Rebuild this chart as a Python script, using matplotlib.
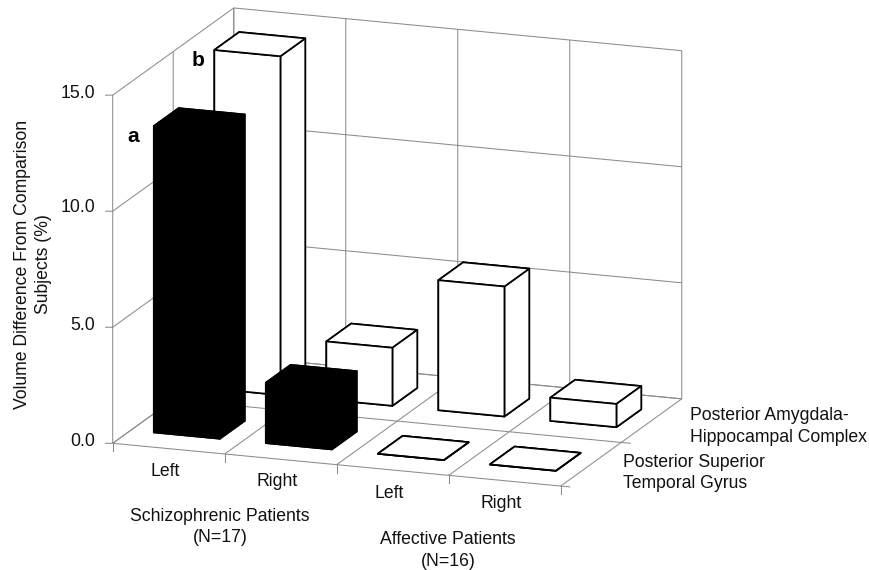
import matplotlib
matplotlib.use('Agg')
from matplotlib import pyplot as plt
from mpl_toolkits.mplot3d import proj3d

plt.rcParams['font.family'] = ['Liberation Sans', 'DejaVu Sans']
plt.rcParams['grid.color'] = '#8c8c8c'
plt.rcParams['grid.linewidth'] = 0.75
plt.rcParams['axes.edgecolor'] = '#8c8c8c'
plt.rcParams['axes.linewidth'] = 0.75

# data
side_labels = ['Left', 'Right', 'Left', 'Right']
region_labels = ['Posterior Superior\nTemporal Gyrus', 'Posterior Amygdala-\nHippocampal Complex']
temporal_gyrus = [13.2, 2.6, 0.0, 0.0]
amygdala_complex = [14.6, 2.5, 5.6, 1.0]
temporal_colors = ['black', 'black', 'white', 'white']
amygdala_colors = ['white', 'white', 'white', 'white']
z_ticks = [0.0, 5.0, 10.0, 15.0]

W, H = 869, 570
TXT = '#111111'
GRID = '#8c8c8c'

fig = plt.figure(figsize=(W / 100, H / 100), dpi=100, facecolor='white')
ax = fig.add_subplot(projection='3d', proj_type='ortho', computed_zorder=False)
ax.set_position([0, 0, 1, 1])
ax.view_init(elev=15.2, azim=-70)
ax.set_xlim(0, 4, view_margin=0)
ax.set_ylim(0, 2, view_margin=0)
ax.set_zlim(0, 15, view_margin=0)
ax.set_xticks(range(5))
ax.set_yticks(range(3))
ax.set_zticks(z_ticks)
aspect = (476.8, 354.0, 360.8)

for axis in (ax.xaxis, ax.yaxis, ax.zaxis):
    axis.set_pane_color((1, 1, 1, 0))
    axis.pane.set_edgecolor(GRID)
    axis.pane.set_linewidth(0.75)
    axis.line.set_color('none')
    axis.set_ticklabels([])
    axis.set_tick_params(color='none')


def to_px(x, y, z):
    px, py, _ = proj3d.proj_transform(x, y, z, ax.get_proj())
    return ax.transData.transform((px, py))


# fit the box to the floor corners seen in the picture
ax.set_box_aspect(aspect, zoom=1.0)
fig.canvas.draw()
span = to_px(4, 0, 0)[0] - to_px(0, 0, 0)[0]
ax.set_box_aspect(aspect, zoom=448.0 / span)
fig.canvas.draw()
corner = to_px(0, 0, 0)
ax.set_position([(112.7 - corner[0]) / W, (H - 443.3 - corner[1]) / H, 1, 1])

# bars, back row first
for row, values, colors in ((1, amygdala_complex, amygdala_colors), (0, temporal_gyrus, temporal_colors)):
    for i, v in enumerate(values):
        ax.bar3d(i + 0.205, row + 0.3, 0, 0.59, 0.41, v, color=colors[i], edgecolor='black',
                 linewidth=1.25, shade=False, zorder=10 + (1 - row) * 10 + i)

# tick marks
for i in range(5):
    ax.plot([i, i], [0, 0], [0, -0.35], color=GRID, lw=0.75, zorder=2)
for j in range(3):
    ax.plot([4, 4.08], [j, j], [0, 0], color=GRID, lw=0.75, zorder=2)
for t in z_ticks:
    ax.plot([0, -0.1], [0, -0.025], [t, t], color=GRID, lw=0.75, zorder=2)


def label(x, y, s, **kw):
    kw.setdefault('fontsize', 12.7)
    kw.setdefault('color', TXT)
    fig.text(x / W, 1 - y / H, s, **kw)


for t, yy in zip(z_ticks, [442, 326, 208, 93]):
    label(95, yy, '%.1f' % t, ha='right', va='center')
for s, xx, yy in zip(side_labels, [165, 277, 389, 501], [471, 482, 493, 504]):
    label(xx, yy, s, ha='center', va='center')
label(690, 426.5, region_labels[1], ha='left', va='center', linespacing=1.38)
label(623, 473, region_labels[0], ha='left', va='center', linespacing=1.38)
label(220, 527, 'Schizophrenic Patients\n(N=17)', ha='center', va='center', linespacing=1.38)
label(448, 550.5, 'Affective Patients\n(N=16)', ha='center', va='center', linespacing=1.38)
label(33, 264, 'Volume Difference From Comparison\nSubjects (%)', rotation=90,
      ha='center', va='center', multialignment='center', linespacing=1.38)
label(133, 136, 'a', fontweight='bold', fontsize=15, ha='center', va='center', color='black')
label(198, 60, 'b', fontweight='bold', fontsize=15, ha='center', va='center', color='black')

fig.savefig('out.png', dpi=100)
